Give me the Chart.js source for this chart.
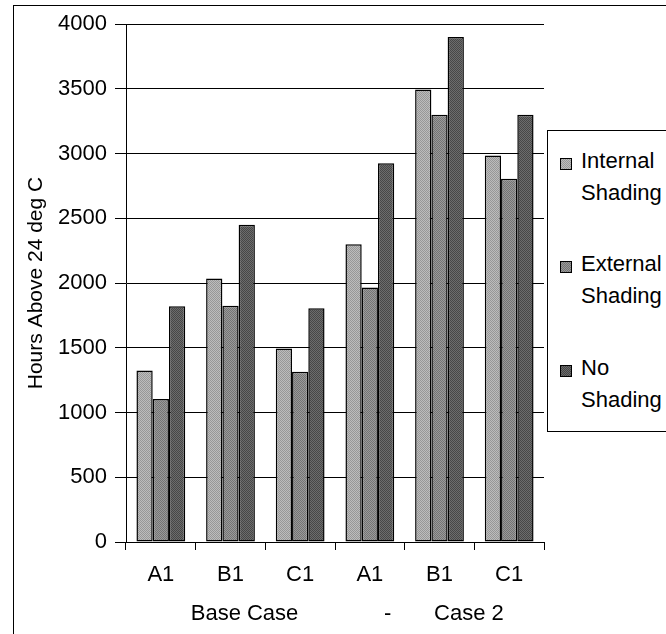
<!DOCTYPE html>
<html>
<head>
<meta charset="utf-8">
<script src="https://cdn.jsdelivr.net/npm/chart.js@4/dist/chart.umd.min.js"></script>
<style>
  html, body { margin: 0; padding: 0; background: #fff; }
  #wrap { position: relative; width: 666px; height: 634px; overflow: hidden; font-family: "Liberation Sans", Arial, sans-serif; }
  #frame { position: absolute; left: 13px; top: 5px; width: 700px; height: 700px; border-left: 1px solid #000; border-top: 1px solid #000; }
  #legend { position: absolute; left: 547px; top: 130px; width: 140px; height: 300px; border: 1px solid #000; background: #fff; }
  .item { position: absolute; left: 0; font-size: 22px; line-height: 32px; color: #000; }
  .sw { position: absolute; left: 12px; top: 13px; width: 10px; height: 10px; border: 1px solid #000; }
  .txt { margin-left: 33px; white-space: nowrap; }
  canvas { position: absolute; left: 0; top: 0; }
</style>
</head>
<body>
<div id="wrap">
  <div id="frame"></div>
  <canvas id="chart" width="666" height="634"></canvas>
  <div id="legend"></div>
</div>
<script>
// Hours above 24 °C for each building, grouped by scenario
const categories = ["A1", "B1", "C1", "A1", "B1", "C1"];
const seriesNames = [["Internal", "Shading"], ["External", "Shading"], ["No", "Shading"]];
const internalShading = [1325, 2035, 1495, 2300, 3495, 2985];
const externalShading = [1105, 1825, 1315, 1965, 3300, 2805];
const noShading = [1820, 2450, 1805, 2925, 3900, 3300];
const yTicks = [0, 500, 1000, 1500, 2000, 2500, 3000, 3500, 4000];
const xTitle = "    Base Case              -       Case 2";
const yTitle = "Hours Above 24 deg C";

// halftone-style fills: two alternating greys per series
const tones = [["#bcbcbc", "#979797"], ["#9a9a9a", "#747474"], ["#6c6c6c", "#474747"]];
const seriesValues = [internalShading, externalShading, noShading];

function halftone(light, dark) {
  const c = document.createElement("canvas");
  c.width = 2; c.height = 2;
  const g = c.getContext("2d");
  g.fillStyle = light; g.fillRect(0, 0, 2, 2);
  g.fillStyle = dark; g.fillRect(0, 0, 1, 1); g.fillRect(1, 1, 1, 1);
  return c;
}
const tiles = tones.map(t => halftone(t[0], t[1]));
const ctx = document.getElementById("chart").getContext("2d");
const fills = tiles.map(t => ctx.createPattern(t, "repeat"));

const FONT = "'Liberation Sans', Arial, sans-serif";

const chart = new Chart(ctx, {
  type: "bar",
  data: {
    labels: categories,
    datasets: seriesValues.map((vals, i) => ({
      label: seriesNames[i].join(" "),
      data: vals,
      backgroundColor: fills[i],
      borderColor: "#000",
      borderWidth: 1.5,
      borderSkipped: false,
      categoryPercentage: 0.7,
      barPercentage: 1.0
    }))
  },
  options: {
    responsive: false,
    animation: false,
    devicePixelRatio: 1,
    layout: { padding: { left: 0, top: 24, right: 122, bottom: 0 } },
    plugins: { legend: { display: false }, tooltip: { enabled: false } },
    scales: {
      x: {
        afterFit: s => { s.height = 92; },
        grid: { drawOnChartArea: false, color: "#000", tickLength: 8, lineWidth: 1 },
        border: { color: "#000", width: 1 },
        ticks: { color: "#000", font: { family: FONT, size: 22 }, padding: 12 },
        title: { display: true, text: xTitle, color: "#000", font: { family: FONT, size: 22 }, padding: { bottom: 7 } }
      },
      y: {
        min: 0, max: 4000,
        afterFit: s => { s.width = 126; },
        afterBuildTicks: s => { s.ticks = yTicks.map(v => ({ value: v })); },
        grid: { color: "#000", lineWidth: 1, tickLength: 11 },
        border: { color: "#000", width: 1 },
        ticks: { color: "#000", font: { family: FONT, size: 22 }, padding: 8, callback: v => String(v) },
        title: { display: true, text: yTitle, color: "#000", font: { family: FONT, size: 21 }, padding: { top: 24 } }
      }
    }
  }
});

// Legend box with two-line entries
const legend = document.getElementById("legend");
const rowTops = [14, 117, 221];
seriesNames.forEach((lines, i) => {
  const d = document.createElement("div");
  d.className = "item";
  d.style.top = rowTops[i] + "px";
  const sw = document.createElement("div");
  sw.className = "sw";
  sw.style.backgroundImage = "url(" + tiles[i].toDataURL() + ")";
  const tx = document.createElement("div");
  tx.className = "txt";
  tx.innerHTML = lines.join("<br>");
  d.appendChild(sw);
  d.appendChild(tx);
  legend.appendChild(d);
});
</script>
</body>
</html>
